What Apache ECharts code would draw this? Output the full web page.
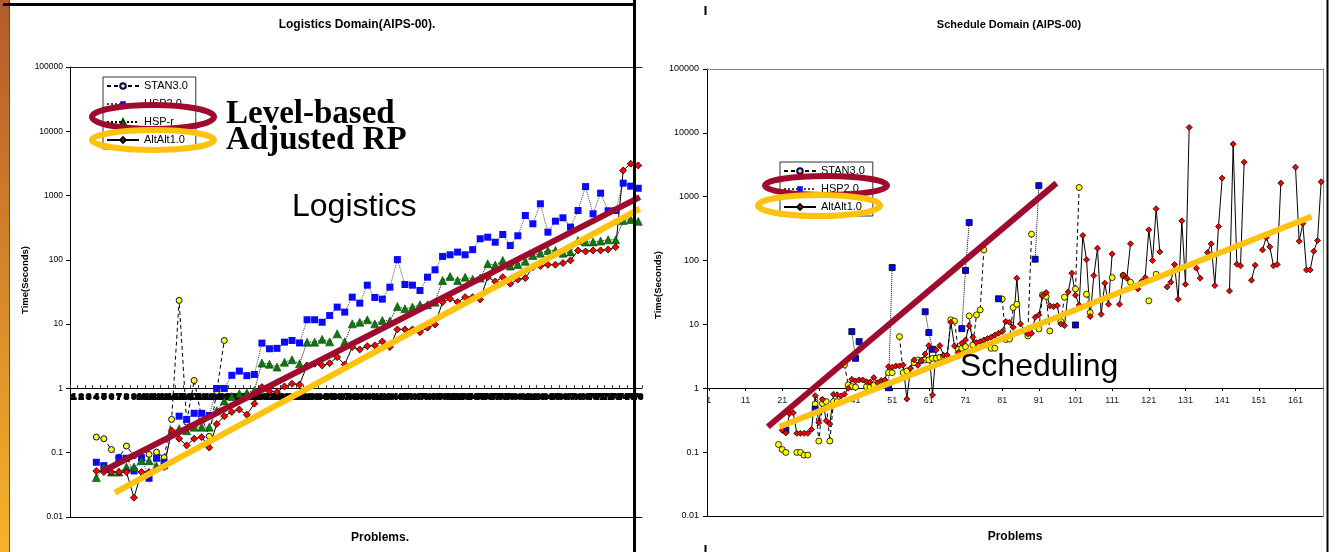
<!DOCTYPE html>
<html>
<head>
<meta charset="utf-8">
<script src="https://cdn.jsdelivr.net/npm/echarts@6/dist/echarts.min.js"></script>
<style>
  html, body { margin: 0; padding: 0; background: #fff; }
  #chart { width: 1335px; height: 552px; }
</style>
</head>
<body>
<div id="chart"></div>
<script>
const FONT = 'Liberation Sans, Arial, sans-serif';

// ---- Logistics domain (left), [problem, seconds]
const logiCount = 76;
const logiProblems = Array.from({ length: logiCount }, (_, i) => String(i + 1));
const logiStan = [[4,0.175],[5,0.165],[6,0.112],[7,0.085],[8,0.127],[9,0.09],[10,0.085],[11,0.094],[12,0.102],[13,0.084],[14,0.33],[15,23.4],[16,0.3],[17,1.33],[18,0.35],[19,0.18],[20,0.9],[21,5.57]];
const logiHsp = [[4,0.071],[5,0.063],[7,0.082],[8,0.082],[9,0.052],[10,0.083],[11,0.04],[12,0.082],[13,0.071],[15,0.37],[16,0.33],[17,0.41],[18,0.41],[19,0.38],[20,1.0],[21,1.0],[22,1.6],[23,1.86],[24,1.58],[25,1.65],[26,5.07],[27,4.14],[28,4.2],[29,5.25],[30,5.57],[31,5.1],[32,11.7],[33,11.7],[34,10.7],[35,13.6],[36,18.4],[37,15.4],[38,26.3],[39,21.2],[40,40.4],[41,26],[42,24.5],[43,37.6],[44,101],[45,41.4],[46,40.4],[47,33.4],[48,53.8],[49,70],[50,113],[51,120],[52,132],[53,120],[54,144],[55,213],[56,225],[57,188],[58,248],[59,167],[60,237],[61,490],[62,364],[63,745],[64,270],[65,400],[66,451],[67,323],[68,586],[69,1380],[70,521],[71,1090],[72,580],[73,586],[74,1560],[75,1400],[76,1300]];
const logiHspr = [[4,0.041],[5,0.06],[6,0.05],[7,0.05],[8,0.06],[9,0.06],[10,0.075],[11,0.075],[12,0.062],[13,0.065],[14,0.217],[15,0.236],[16,0.22],[17,0.25],[18,0.25],[19,0.25],[20,0.45],[21,0.64],[22,0.75],[23,0.83],[24,0.85],[25,0.93],[26,2.48],[27,2.38],[28,2.15],[29,2.56],[30,2.79],[31,2.42],[32,5.25],[33,5.25],[34,5.8],[35,5.3],[36,7.08],[37,5.3],[38,10.1],[39,10.7],[40,11.7],[41,10.1],[42,11.4],[43,11.2],[44,18.8],[45,17.3],[46,18.4],[47,20],[48,20],[49,22],[50,47.8],[51,55],[52,47.8],[53,53.8],[54,50],[55,52],[56,87],[57,83],[58,98],[59,80],[60,85],[61,95],[62,117],[63,127],[64,140],[65,140],[66,127],[67,133],[68,200],[69,190],[70,190],[71,196],[72,205],[73,205],[74,410],[75,425],[76,397]];
const logiAlt = [[4,0.052],[5,0.05],[6,0.05],[7,0.05],[8,0.05],[9,0.02],[10,0.05],[11,0.05],[12,0.055],[13,0.06],[14,0.22],[15,0.165],[16,0.13],[17,0.165],[18,0.175],[19,0.12],[20,0.28],[21,0.37],[22,0.43],[23,0.47],[24,0.39],[25,0.58],[26,1.05],[27,0.9],[28,0.88],[29,1.07],[30,1.18],[31,1.15],[32,2.28],[33,2.42],[34,2.28],[35,2.47],[36,3.07],[37,2.36],[38,4.4],[39,4.04],[40,4.55],[41,4.67],[42,5.38],[43,4.4],[44,8.27],[45,8.27],[46,8.27],[47,7.5],[48,8.8],[49,9.9],[50,22],[51,24.8],[52,22],[53,26.3],[54,26.3],[55,24.2],[56,53.8],[57,46],[58,53.8],[59,42.5],[60,49.5],[61,52],[62,77],[63,80],[64,84],[65,84],[66,89],[67,98],[68,140],[69,135],[70,140],[71,140],[72,145],[73,158],[74,2460],[75,3130],[76,2940]];
// hand-drawn trend strokes, [problem position, seconds]
const logiLevelTrend = [[4.4, 0.052], [75.7, 944]];
const logiAdjTrend = [[5.97, 0.024], [75.7, 624]];

// ---- Schedule domain (right), [problem, seconds]
const schedCount = 168;
const schedProblems = Array.from({ length: schedCount }, (_, i) => String(i + 1));
const schedStan = [[20,0.132],[21,0.11],[22,0.099],[25,0.099],[26,0.099],[27,0.09],[28,0.09],[30,0.567],[31,0.149],[32,0.58],[33,0.62],[34,0.149],[35,0.62],[36,0.62],[38,2.32],[39,1.13],[40,1.06],[41,1.04],[44,1.06],[45,1.04],[46,1.13],[48,1.22],[50,1.76],[51,1.76],[53,6.45],[54,1.76],[55,1.87],[57,2.52],[58,2.78],[59,2.71],[60,2.78],[61,2.78],[62,2.95],[63,2.95],[64,3.06],[65,3.13],[66,3.06],[67,11.8],[68,11.3],[69,4.08],[70,4.23],[71,4.49],[72,13.6],[73,4.77],[74,14.1],[75,16.9],[76,147],[78,4.23],[79,4.23],[81,25],[82,5.8],[83,5.9],[84,18.4],[85,20.7],[88,6.6],[89,259],[91,8.5],[92,29],[93,27.3],[94,7.9],[97,11.1],[98,26.7],[101,36],[102,1396],[104,29.7],[105,15.3],[111,54.2],[114,58.2],[116,45.8],[121,23.4],[123,61.1]];
const schedHsp = [[22,0.222],[30,0.47],[40,7.72],[41,2.95],[42,5.38],[50,1.02],[51,77.8],[60,15.8],[61,7.46],[62,4.08],[70,8.6],[71,70],[72,394],[80,25.2],[90,105],[91,1490],[101,9.8]];
const schedAlt = [[21,0.22],[22,0.2],[23,0.4],[24,0.415],[25,0.197],[26,0.197],[27,0.197],[28,0.197],[29,0.227],[30,0.766],[31,0.289],[32,0.671],[33,0.311],[34,0.275],[35,0.805],[36,0.79],[37,0.757],[38,0.81],[39,1.0],[40,1.38],[41,1.3],[42,1.35],[43,1.35],[44,1.27],[45,1.25],[46,1.47],[47,1.22],[48,1.32],[49,1.35],[50,2.18],[51,2.13],[52,2.24],[53,2.24],[54,2.32],[55,0.68],[56,2.06],[57,2.78],[58,2.29],[59,2.71],[60,3.45],[61,4.66],[62,0.785],[63,3.98],[64,4.66],[65,3.29],[66,3.32],[67,10.8],[68,4.6],[69,3.62],[70,5.07],[71,5.71],[72,9.47],[73,6.29],[74,5.19],[75,5.38],[76,5.7],[77,6.0],[78,6.3],[79,6.8],[80,7.27],[81,7.72],[82,11.1],[83,10.8],[84,9.0],[85,53],[86,10.2],[87,8.0],[88,7.1],[89,7.27],[90,12.9],[91,14.1],[92,28],[93,31.5],[94,19.5],[95,19],[96,19.7],[97,10.2],[98,9.6],[99,32.3],[100,63.4],[101,28.7],[102,20.2],[103,247],[104,103],[105,13.3],[106,58.2],[107,156],[108,14.4],[109,44.2],[110,20.7],[111,127],[113,20.7],[114,59.7],[115,53],[116,183],[118,36],[119,46.9],[120,54.2],[121,303],[122,100],[123,646],[124,137],[126,38.7],[127,45.8],[128,86.7],[129,24.8],[130,419],[131,42.6],[132,12170],[134,75.9],[135,53],[137,134],[138,183],[139,40.6],[140,341],[141,1955],[143,33.5],[144,6670],[145,87.8],[146,82.6],[147,3480],[149,49.2],[150,84.7],[152,147],[153,230],[154,164],[155,82.6],[156,86.7],[157,1633],[161,2905],[162,201],[163,380],[164,71.4],[165,71.4],[166,140],[167,206],[168,1713]];
const schedLevelTrend = [[16.6, 0.25], [95.3, 1633]];
const schedAdjTrend = [[19.8, 0.25], [164.9, 490]];

const yTicks = [0.01, 0.1, 1, 10, 100, 1000, 10000, 100000];

// spread [problem, value] pairs over the category slots, blanks stay empty
function toSlots(pairs, n) {
  const out = new Array(n).fill(null);
  pairs.forEach(([p, v]) => { out[p - 1] = v; });
  return out;
}
function fmtLog(v) {
  return String(Number(v.toPrecision(3)));
}

const chartDom = document.getElementById('chart');
const myChart = echarts.init(chartDom);

const MAROON = '#9e0b2c';
const GOLD = '#ffc20e';

function logAxis(grid, labelSize, margin) {
  return {
    type: 'log', logBase: 10, gridIndex: grid,
    min: yTicks[0], max: yTicks[yTicks.length - 1], splitNumber: 7,
    axisLine: { show: true, lineStyle: { color: '#000', width: 1 } },
    axisTick: { show: true, length: 4, lineStyle: { color: '#000' } },
    axisLabel: { fontFamily: FONT, fontSize: labelSize, color: '#000', margin: margin, formatter: fmtLog },
    splitLine: { show: false }
  };
}
function frameAxis(grid, cats, pos, color) {
  return {
    type: 'category', gridIndex: grid, data: cats, position: pos,
    axisLine: { show: true, onZero: false, lineStyle: { color: color, width: 1 } },
    axisTick: { show: false }, axisLabel: { show: false }, splitLine: { show: false }
  };
}
function dataLine(name, xi, yi, data, sym, size, item, line) {
  return {
    name: name, type: 'line', xAxisIndex: xi, yAxisIndex: yi,
    data: data, symbol: sym, symbolSize: size, showAllSymbol: true,
    connectNulls: false, itemStyle: item, lineStyle: line,
    emphasis: { disabled: true }, z: 3
  };
}
function trendLine(xi, yi, data, color) {
  return {
    type: 'line', xAxisIndex: xi, yAxisIndex: yi, data: data,
    symbol: 'none', lineStyle: { color: color, width: 6, cap: 'butt' },
    emphasis: { disabled: true }, silent: true, z: 6
  };
}

const boldText = (size) => ({ fontFamily: FONT, fontSize: size, fontWeight: 'bold', color: '#000' });
const legendBase = {
  orient: 'vertical', itemWidth: 32, itemHeight: 7, itemGap: 6,
  padding: [3, 8, 3, 3], borderColor: '#333', borderWidth: 1,
  textStyle: { fontFamily: FONT, fontSize: 11, color: '#000', lineHeight: 12 },
  selectedMode: false
};

const option = {
  animation: false,
  backgroundColor: '#fff',
  title: [
    { text: 'Logistics Domain(AIPS-00).', left: 352, top: 14, textAlign: 'center', textStyle: boldText(12) },
    { text: 'Schedule Domain (AIPS-00)', left: 1004, top: 14, textAlign: 'center', textStyle: boldText(11) }
  ],
  legend: [
    Object.assign({ data: ['STAN3.0', 'HSP2.0', 'HSP-r', 'AltAlt1.0'], left: 103, top: 77 }, legendBase),
    Object.assign({ data: ['STAN3.0', 'HSP2.0', 'AltAlt1.0'], left: 780, top: 162 }, legendBase)
  ],
  grid: [
    { left: 70, right: 693, top: 67, bottom: 35 },
    { left: 707, right: 12, top: 69, bottom: 36 }
  ],
  xAxis: [
    // left: category axis crossing at 1 second, labels crammed into a dark band
    {
      type: 'category', gridIndex: 0, data: logiProblems, offset: -129,
      axisLine: { show: true, onZero: false, lineStyle: { color: '#000' } },
      axisTick: { show: true, inside: true, length: 3, interval: 0, lineStyle: { color: '#444' } },
      axisLabel: { interval: 0, fontFamily: FONT, fontSize: 8, fontWeight: 'bold', color: '#000',
        textBorderColor: '#000', textBorderWidth: 2, margin: 5, hideOverlap: false },
      splitLine: { show: false }
    },
    Object.assign(frameAxis(0, logiProblems, 'bottom', '#000'), {
      name: 'Problems.', nameLocation: 'middle', nameGap: 15,
      nameTextStyle: Object.assign(boldText(12), { padding: [0, 0, 0, 48] })
    }),
    frameAxis(0, logiProblems, 'top', '#222'),
    { type: 'value', gridIndex: 0, min: 0, max: logiCount, show: false },
    // right
    {
      type: 'category', gridIndex: 1, data: schedProblems, offset: -128,
      axisLine: { show: true, onZero: false, lineStyle: { color: '#000' } },
      axisTick: { show: true, interval: 9, alignWithLabel: true, length: 3, lineStyle: { color: '#000' } },
      axisLabel: { interval: 9, fontFamily: FONT, fontSize: 9, color: '#222', margin: 8 },
      splitLine: { show: false }
    },
    Object.assign(frameAxis(1, schedProblems, 'bottom', '#000'), {
      name: 'Problems', nameLocation: 'middle', nameGap: 15, nameTextStyle: boldText(12)
    }),
    frameAxis(1, schedProblems, 'top', '#888'),
    { type: 'value', gridIndex: 1, min: 0, max: schedCount, show: false }
  ],
  yAxis: [
    logAxis(0, 8.5, 7),
    logAxis(1, 9, 8),
    {
      type: 'log', logBase: 10, gridIndex: 1, position: 'right',
      min: yTicks[0], max: yTicks[yTicks.length - 1],
      axisLine: { show: true, lineStyle: { color: '#888' } },
      axisTick: { show: false }, axisLabel: { show: false }, splitLine: { show: false }
    }
  ],
  series: [
    dataLine('STAN3.0', 0, 0, toSlots(logiStan, logiCount), 'circle', 6,
      { color: '#ffff00', borderColor: '#000080', borderWidth: 1 },
      { color: '#000', width: 1, type: [4, 3] }),
    dataLine('HSP2.0', 0, 0, toSlots(logiHsp, logiCount), 'rect', 7,
      { color: '#0a0aff', borderWidth: 0 },
      { color: '#444', width: 1, type: 'dotted' }),
    dataLine('HSP-r', 0, 0, toSlots(logiHspr, logiCount), 'triangle', 8,
      { color: '#0a7a0a', borderColor: '#034003', borderWidth: 0.6 },
      { color: '#000', width: 1, type: 'dotted' }),
    dataLine('AltAlt1.0', 0, 0, toSlots(logiAlt, logiCount), 'diamond', 7,
      { color: '#ff0000', borderColor: '#000', borderWidth: 0.8 },
      { color: '#000', width: 1 }),
    trendLine(3, 0, logiLevelTrend, MAROON),
    trendLine(3, 0, logiAdjTrend, GOLD),

    dataLine('STAN3.0', 4, 1, toSlots(schedStan, schedCount), 'circle', 6,
      { color: '#ffff00', borderColor: '#000', borderWidth: 0.8 },
      { color: '#000', width: 1, type: [4, 3] }),
    dataLine('HSP2.0', 4, 1, toSlots(schedHsp, schedCount), 'rect', 6,
      { color: '#0000ff', borderColor: '#000', borderWidth: 0.8 },
      { color: '#000', width: 1, type: 'dotted' }),
    dataLine('AltAlt1.0', 4, 1, toSlots(schedAlt, schedCount), 'diamond', 6,
      { color: '#ff0000', borderColor: '#000', borderWidth: 0.8 },
      { color: '#000', width: 1 }),
    trendLine(7, 1, schedLevelTrend, MAROON),
    trendLine(7, 1, schedAdjTrend, GOLD)
  ],
  graphic: [
    // slide decorations
    { type: 'rect', z: 50, shape: { x: 0, y: 0, width: 9, height: 552 },
      style: { fill: new echarts.graphic.LinearGradient(0, 0, 0, 1, [
        { offset: 0, color: '#b45a2c' }, { offset: 1, color: '#f6b22a' }]) } },
    { type: 'line', z: 50, shape: { x1: 9.5, y1: 0, x2: 9.5, y2: 552 }, style: { stroke: '#c0202a', lineWidth: 1 } },
    { type: 'line', z: 50, shape: { x1: 3, y1: 4.5, x2: 636, y2: 4.5 }, style: { stroke: '#000', lineWidth: 3 } },
    { type: 'line', z: 50, shape: { x1: 634.5, y1: 0, x2: 634.5, y2: 552 }, style: { stroke: '#000', lineWidth: 3 } },
    { type: 'line', z: 50, shape: { x1: 1327.5, y1: 0, x2: 1327.5, y2: 552 }, style: { stroke: '#000', lineWidth: 2 } },
    { type: 'line', z: 50, shape: { x1: 705.5, y1: 6, x2: 705.5, y2: 15 }, style: { stroke: '#000', lineWidth: 2 } },
    { type: 'line', z: 50, shape: { x1: 705.5, y1: 545, x2: 705.5, y2: 552 }, style: { stroke: '#000', lineWidth: 2 } },
    // axis titles
    { type: 'text', x: 25, y: 280, rotation: Math.PI / 2, z: 50,
      style: { text: 'Time(Seconds)', x: 0, y: 0, align: 'center', verticalAlign: 'middle', fill: '#000', font: 'bold 9.5px ' + FONT } },
    { type: 'text', x: 658, y: 285, rotation: Math.PI / 2, z: 50,
      style: { text: 'Time(Seconds)', x: 0, y: 0, align: 'center', verticalAlign: 'middle', fill: '#000', font: 'bold 9.5px ' + FONT } },
    // highlight ellipses round legend entries
    { type: 'ellipse', z: 60, shape: { cx: 153, cy: 117, rx: 61, ry: 12 }, style: { fill: 'none', stroke: MAROON, lineWidth: 6 } },
    { type: 'ellipse', z: 60, shape: { cx: 153, cy: 140, rx: 61, ry: 10 }, style: { fill: 'none', stroke: GOLD, lineWidth: 6 } },
    { type: 'ellipse', z: 60, shape: { cx: 826, cy: 185.5, rx: 61, ry: 9.5 }, style: { fill: 'none', stroke: MAROON, lineWidth: 6 } },
    { type: 'ellipse', z: 60, shape: { cx: 819, cy: 205.5, rx: 61, ry: 10.5 }, style: { fill: 'none', stroke: GOLD, lineWidth: 6 } },
    // annotations
    { type: 'text', z: 60, x: 226, y: 114, style: { text: 'Level-based', fill: '#000', font: 'bold 33px Liberation Serif, Times New Roman, serif', verticalAlign: 'middle' } },
    { type: 'text', z: 60, x: 226, y: 140, style: { text: 'Adjusted RP', fill: '#000', font: 'bold 33px Liberation Serif, Times New Roman, serif', verticalAlign: 'middle' } },
    { type: 'text', z: 60, x: 292, y: 207, style: { text: 'Logistics', fill: '#000', font: '32px ' + FONT, verticalAlign: 'middle' } },
    { type: 'text', z: 60, x: 960, y: 367, style: { text: 'Scheduling', fill: '#000', font: '32px ' + FONT, verticalAlign: 'middle' } }
  ]
};

myChart.setOption(option);
window.addEventListener('resize', myChart.resize);
</script>
</body>
</html>
